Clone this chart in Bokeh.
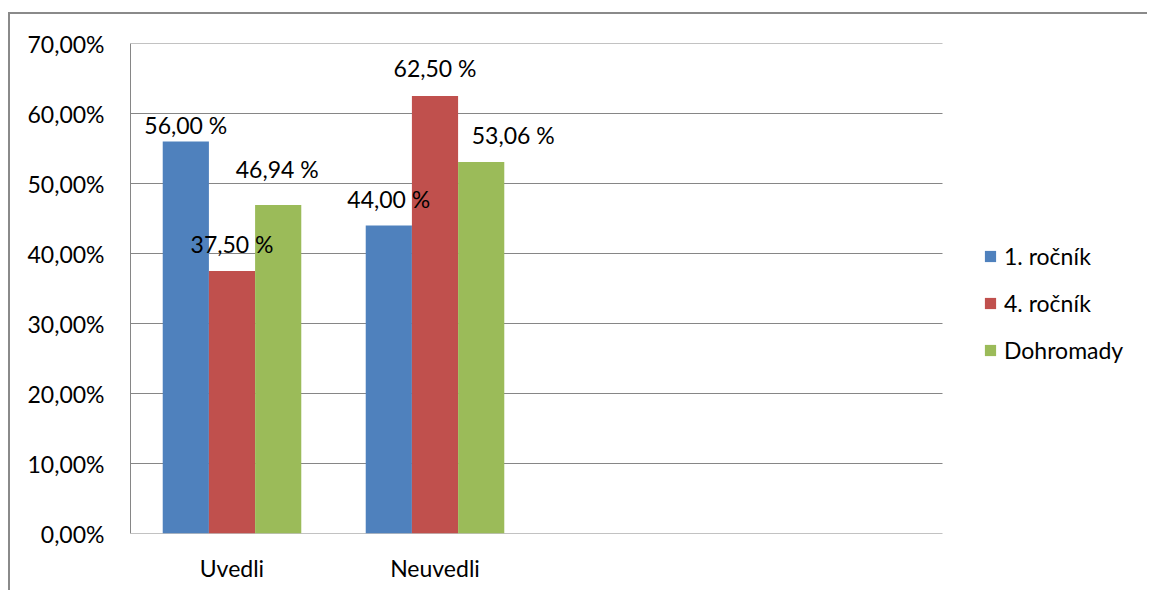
from bokeh.plotting import figure
from bokeh.models import ColumnDataSource, Range1d, FixedTicker, Legend, LegendItem
from bokeh.core.properties import value
from bokeh.embed import file_html
from bokeh.resources import INLINE

# --- data -------------------------------------------------------------
categories = ["Uvedli", "Neuvedli", "", ""]          # two empty slots keep the axis wide
series_names = ["1. ročník", "4. ročník", "Dohromady"]
rocnik_1 = [56.00, 44.00]
rocnik_4 = [37.50, 62.50]
dohromady = [46.94, 53.06]
y_ticks = [0, 10, 20, 30, 40, 50, 60, 70]

# --- styling / layout ---------------------------------------------------
FONT = "Lato"
FS = "23px"
GRID = "#868686"
BORDER = "#8a8a8a"
colors = ["#4F81BD", "#C0504D", "#9BBB59"]
bar_w = 0.2275
offsets = [-bar_w, 0.0, bar_w]
# hand-placed label nudges (pixels, negative = up) per series / category
label_dx = [[0, 0], [0, 0], [-1, 32]]
label_dy = [[-17, -27], [-27, -28], [-36, -27]]

W, H = 1139, 578            # canvas inside the chart border
PLOT_LEFT, PLOT_RIGHT = 120, 932
FRAME_W = W - PLOT_LEFT
n_cat = len(categories)
x_end = n_cat * FRAME_W / (PLOT_RIGHT - PLOT_LEFT)

p = figure(width=W, height=H, output_backend="svg", toolbar_location=None,
           x_range=Range1d(0, x_end), y_range=Range1d(0, 70),
           min_border_left=PLOT_LEFT, min_border_right=0,
           min_border_top=29, min_border_bottom=59)
p.margin = (12, 0, 0, 8)
p.styles = {"border-left": f"2px solid {BORDER}", "border-top": f"2px solid {BORDER}"}
p.outline_line_color = None
p.background_fill_color = "white"
p.border_fill_color = "white"
p.xgrid.visible = False
p.ygrid.visible = False

# horizontal gridlines across the plotting area only
p.segment(x0=[0] * len(y_ticks), x1=[n_cat] * len(y_ticks), y0=y_ticks, y1=y_ticks,
          line_color=GRID, line_width=1)

# y axis
p.yaxis.ticker = FixedTicker(ticks=y_ticks)
p.yaxis.major_label_overrides = {t: f"{t:.2f}".replace(".", ",") + "%" for t in y_ticks}
p.yaxis.axis_line_color = GRID
p.yaxis.major_tick_line_color = None
p.yaxis.minor_tick_line_color = None
p.yaxis.major_label_standoff = 20
p.yaxis.major_label_text_font = FONT
p.yaxis.major_label_text_font_size = FS
p.yaxis.major_label_text_color = "black"

# x axis (its baseline is the 0 % gridline)
p.xaxis.ticker = FixedTicker(ticks=[i + 0.5 for i, c in enumerate(categories) if c])
p.xaxis.major_label_overrides = {i + 0.5: c for i, c in enumerate(categories) if c}
p.xaxis.axis_line_color = None
p.xaxis.major_tick_line_color = None
p.xaxis.minor_tick_line_color = None
p.xaxis.major_label_standoff = 14
p.xaxis.major_label_text_font = FONT
p.xaxis.major_label_text_font_size = FS
p.xaxis.major_label_text_color = "black"

# bars first, value labels afterwards so they sit on top of every bar
all_series = [rocnik_1, rocnik_4, dohromady]
legend_items = []
sources = []
for k, (name, vals) in enumerate(zip(series_names, all_series)):
    xs = [i + 0.5 + offsets[k] for i in range(len(vals))]
    src = ColumnDataSource(dict(
        x=xs, top=vals,
        label=[f"{v:.2f}".replace(".", ",") + " %" for v in vals],
        dx=label_dx[k], dy=label_dy[k],
    ))
    sources.append(src)
    r = p.vbar(x="x", top="top", bottom=0, width=bar_w, source=src,
               fill_color=colors[k], line_color=None)
    legend_items.append(LegendItem(label=name, renderers=[r]))

for src in sources:
    p.text(x="x", y="top", text="label", source=src,
           x_offset="dx", y_offset="dy",
           text_align="center", text_baseline="alphabetic",
           text_font=value(FONT), text_font_size=FS, text_color="black")

legend = Legend(items=legend_items, location=(853, 169),
                orientation="vertical", margin=0, padding=0,
                glyph_width=14, glyph_height=14, label_height=27,
                spacing=19, label_standoff=7,
                label_text_font=FONT, label_text_font_size=FS,
                label_text_color="black",
                border_line_color=None, background_fill_alpha=0)
p.add_layout(legend, "center")

open("out.html", "w").write(file_html(p, INLINE))
